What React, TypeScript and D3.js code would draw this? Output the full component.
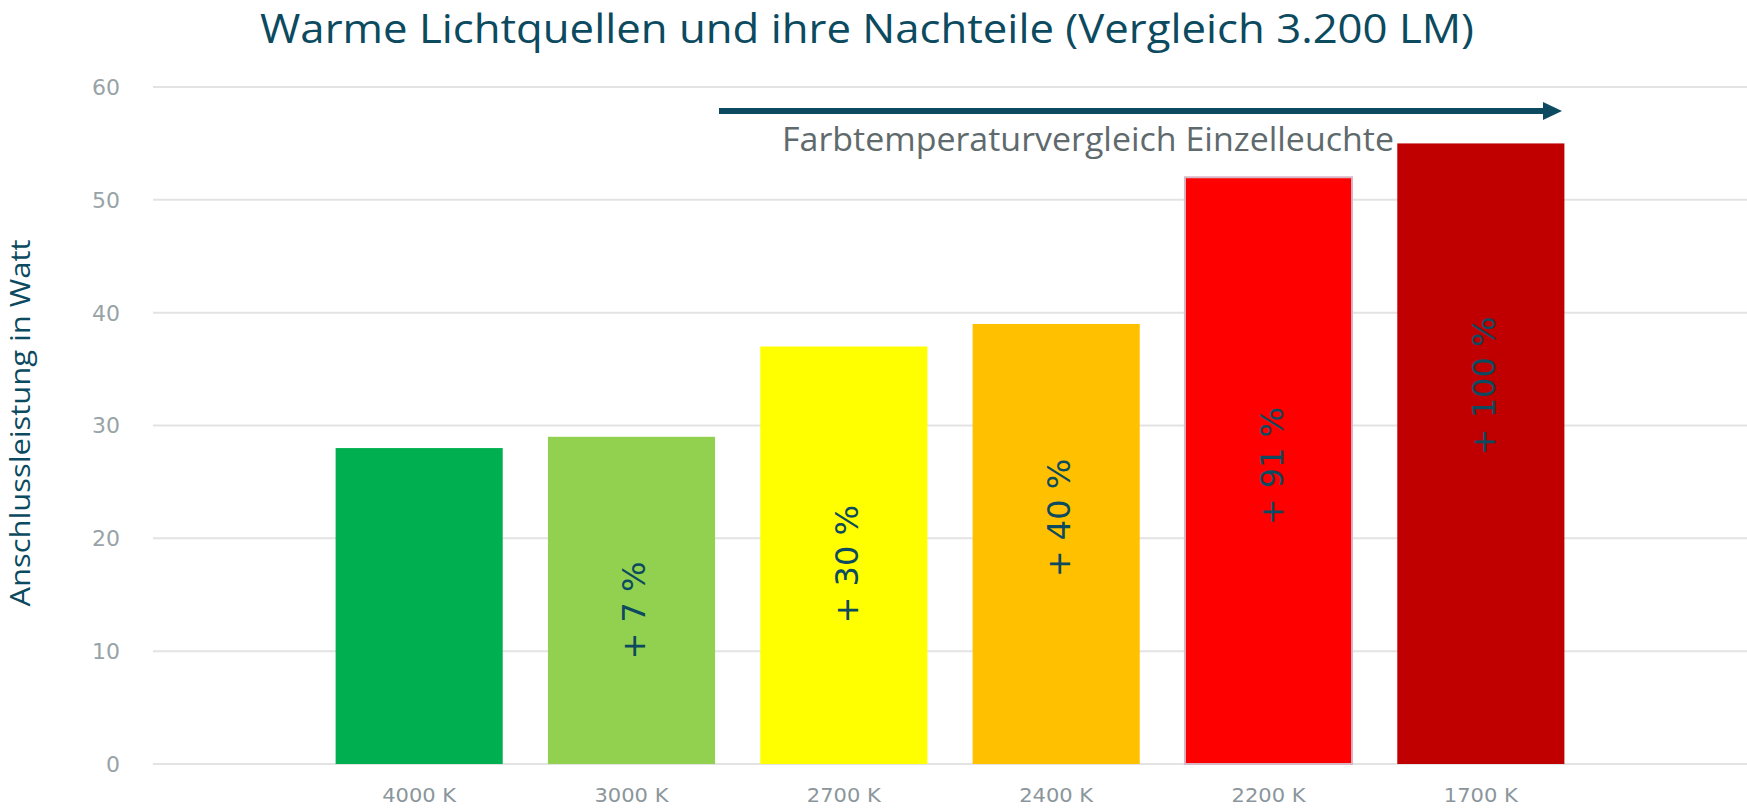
import * as d3 from 'd3';
import React, { useRef, useEffect } from 'react';

// chart data
const categories = ['4000 K', '3000 K', '2700 K', '2400 K', '2200 K', '1700 K'];
const watts = [28, 29, 37, 39, 52, 55];
const barColors = ['#00B050', '#92D050', '#FFFF00', '#FFC000', '#FF0000', '#C00000'];
const barLabels = ['', '+ 7 %', '+ 30 %', '+ 40 %', '+ 91 %', '+ 100 %'];
// where the centre of each rotated label sits, in watts
const labelAt = [0, 13.6, 17.7, 21.8, 26.4, 33.5];
const yTicks = [0, 10, 20, 30, 40, 50, 60];

const W = 1747;
const H = 809;

const App = () => {
    const svgRef = useRef<SVGSVGElement>(null);

    useEffect(() => {
        const svg = d3.select(svgRef.current);
        svg.selectAll('*').remove();

        const opt = {
            left: 153,
            right: W,
            top: 87,
            bottom: 764,
        };

        const y = d3.scaleLinear().domain([0, 60]).range([opt.bottom, opt.top]);
        const x = d3
            .scaleBand()
            .domain(categories)
            .range([opt.left, opt.right])
            .paddingInner(0.213)
            .paddingOuter(0.86);

        // title
        svg.append('text')
            .attr('x', 867)
            .attr('y', 43)
            .attr('text-anchor', 'middle')
            .attr('textLength', 1214)
            .attr('lengthAdjust', 'spacingAndGlyphs')
            .style('font-family', 'Open Sans')
            .style('font-size', '41px')
            .style('fill', '#0B4A5F')
            .text('Warme Lichtquellen und ihre Nachteile (Vergleich 3.200 LM)');

        // grid
        const grid = svg.append('g').attr('class', 'grid');
        grid.selectAll('line')
            .data(yTicks)
            .join('line')
            .attr('x1', opt.left)
            .attr('x2', opt.right)
            .attr('y1', (d: number) => y(d))
            .attr('y2', (d: number) => y(d))
            .style('stroke', '#e3e3e3')
            .style('stroke-width', 2);

        grid.selectAll('text')
            .data(yTicks)
            .join('text')
            .attr('x', 120)
            .attr('y', (d: number) => y(d))
            .attr('dy', '0.36em')
            .attr('text-anchor', 'end')
            .style('font-family', 'DejaVu Sans')
            .style('font-size', '22px')
            .style('fill', '#98a3a7')
            .text((d: number) => d);

        // y axis title
        svg.append('text')
            .attr('transform', `translate(30, 423) rotate(-90)`)
            .attr('text-anchor', 'middle')
            .attr('textLength', 367)
            .attr('lengthAdjust', 'spacingAndGlyphs')
            .style('font-family', 'Open Sans')
            .style('font-size', '28px')
            .style('fill', '#0B4A5F')
            .text('Anschlussleistung in Watt');

        // bars
        const rows = categories.map((c, i) => ({
            cat: c,
            value: watts[i],
            color: barColors[i],
            label: barLabels[i],
            at: labelAt[i],
        }));

        svg.append('g')
            .selectAll('rect')
            .data(rows)
            .join('rect')
            .attr('x', (d: any) => x(d.cat))
            .attr('y', (d: any) => y(d.value))
            .attr('width', x.bandwidth())
            .attr('height', (d: any) => y(0) - y(d.value))
            .style('fill', (d: any) => d.color)
            .style('stroke', (d: any) => (d.cat === '2200 K' ? '#d7b6c6' : 'none'))
            .style('stroke-width', 2);

        // rotated percentage labels
        svg.append('g')
            .selectAll('text')
            .data(rows.filter((d) => d.label))
            .join('text')
            .attr('transform', (d: any) => {
                const cx = (x(d.cat) as number) + x.bandwidth() / 2 + 3;
                return `translate(${cx}, ${y(d.at)}) rotate(-90)`;
            })
            .attr('text-anchor', 'middle')
            .attr('dominant-baseline', 'central')
            .style('font-family', 'DejaVu Sans')
            .style('font-size', '32px')
            .style('fill', '#0B4A5F')
            .text((d: any) => d.label);

        // category labels
        svg.append('g')
            .selectAll('text')
            .data(categories)
            .join('text')
            .attr('x', (d: string) => (x(d) as number) + x.bandwidth() / 2)
            .attr('y', 802)
            .attr('text-anchor', 'middle')
            .attr('textLength', 74)
            .attr('lengthAdjust', 'spacingAndGlyphs')
            .style('font-family', 'DejaVu Sans')
            .style('font-size', '20px')
            .style('fill', '#8a969b')
            .text((d: string) => d);

        // arrow annotation
        svg.append('line')
            .attr('x1', 719)
            .attr('x2', 1546)
            .attr('y1', 111)
            .attr('y2', 111)
            .style('stroke', '#0B4A5F')
            .style('stroke-width', 6);
        svg.append('path')
            .attr('d', 'M1543,102 L1562,111 L1543,120 Z')
            .style('fill', '#0B4A5F');

        svg.append('text')
            .attr('x', 1088)
            .attr('y', 151)
            .attr('text-anchor', 'middle')
            .attr('textLength', 612)
            .attr('lengthAdjust', 'spacingAndGlyphs')
            .style('font-family', 'Open Sans')
            .style('font-size', '32px')
            .style('fill', '#5f6a6d')
            .text('Farbtemperaturvergleich Einzelleuchte');
    }, []);

    return (
        <svg
            ref={svgRef}
            width={W}
            height={H}
            style={{ position: 'absolute', left: 0, top: 0, background: '#fff' }}
        />
    );
};

export default App;
